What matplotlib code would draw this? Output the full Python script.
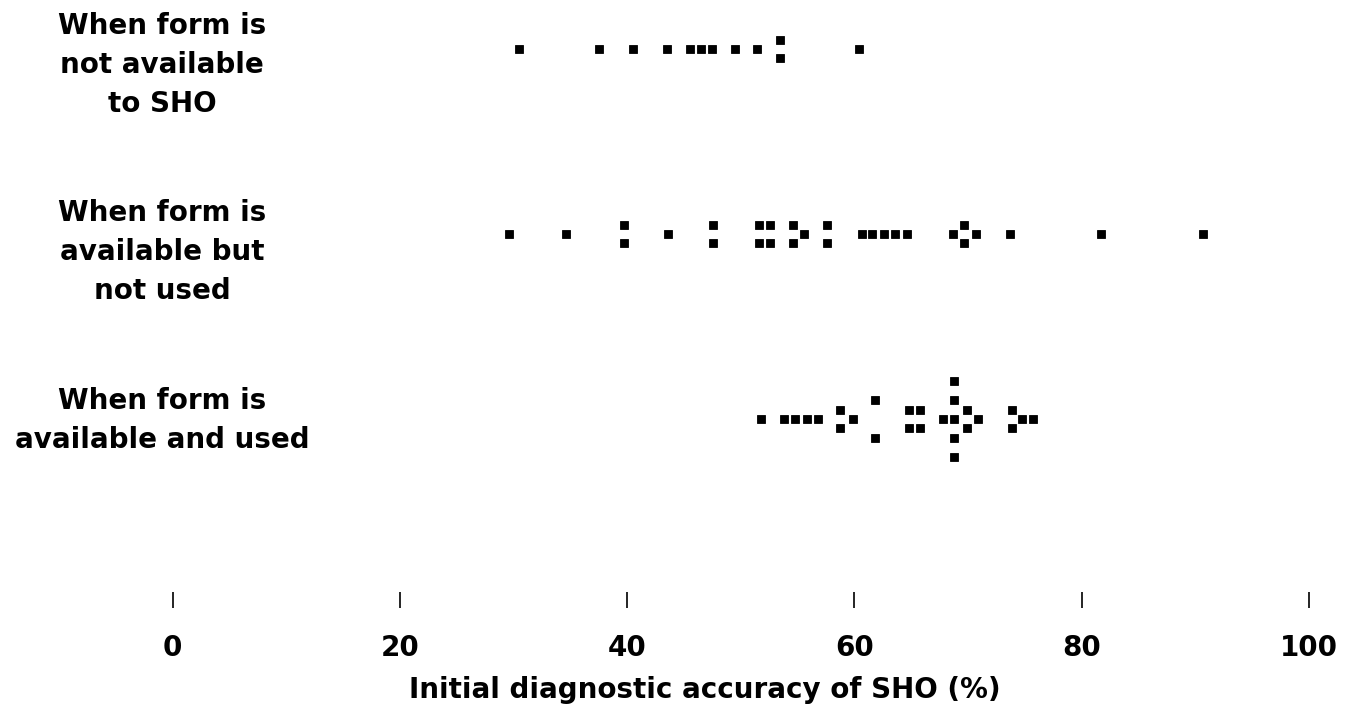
import matplotlib
matplotlib.use("Agg")
import matplotlib.pyplot as plt
import matplotlib.transforms as mtransforms

# Category labels (top to bottom)
categories = [
    "When form is\nnot available\nto SHO",
    "When form is\navailable but\nnot used",
    "When form is\navailable and used",
]

# Initial diagnostic accuracy (%) for each SHO
not_available = [30.5, 37.5, 40.5, 43.5, 45.5, 46.5, 47.5, 49.5, 51.4,
                 53.5, 53.5, 60.4]
not_available_stack = [0, 0, 0, 0, 0, 0, 0, 0, 0, 1, -1, 0]

available_not_used = [29.6, 34.6, 39.7, 39.7, 43.6, 47.6, 47.6, 51.6, 51.6,
                      52.6, 52.6, 54.6, 54.6, 55.6, 57.6, 57.6, 60.7, 61.6,
                      62.6, 63.6, 64.6, 68.7, 69.7, 69.7, 70.7, 73.7, 81.7,
                      90.7]
available_not_used_stack = [0, 0, 1, -1, 0, 1, -1, 1, -1,
                            1, -1, 1, -1, 0, 1, -1, 0, 0,
                            0, 0, 0, 0, 1, -1, 0, 0, 0,
                            0]

available_used = [51.8, 53.8, 54.8, 55.8, 56.8, 58.7, 58.7, 59.9, 61.8, 61.8,
                  64.8, 64.8, 65.8, 65.8, 67.8, 68.8, 68.8, 68.8, 68.8, 68.8,
                  69.9, 69.9, 70.9, 73.9, 73.9, 74.8, 75.7]
available_used_stack = [0, 0, 0, 0, 0, 1, -1, 0, 2, -2,
                        1, -1, 1, -1, 0, 4, 2, 0, -2, -4,
                        1, -1, 0, 1, -1, 0, 0]

xticks = [0, 20, 40, 60, 80, 100]
xlabel = "Initial diagnostic accuracy of SHO (%)"

groups = [
    (not_available, not_available_stack),
    (available_not_used, available_not_used_stack),
    (available_used, available_used_stack),
]
row_pos = [2, 1, 0]
label_shift = [-0.085, -0.095, -0.01]  # label block offset from its dot row
half_step = 0.051  # vertical gap between stacked dots (half a dot row)

plt.rcParams['font.family'] = ['DejaVu Sans']
plt.rcParams['font.weight'] = 'bold'

fig = plt.figure(figsize=(13.59, 7.05), dpi=100)
ax = fig.add_axes([172.7 / 1359, 113 / 705, 1136 / 1359, 592 / 705])

for (vals, stack), y0 in zip(groups, row_pos):
    ys = [y0 + s * half_step for s in stack]
    ax.plot(vals, ys, linestyle='none', marker='s', markersize=5.6,
            color='black', markeredgewidth=0.6)

ax.set_xlim(0, 100)
ax.set_ylim(-0.935, 2.265)
ax.set_xticks(xticks)
ax.set_xticklabels([str(t) for t in xticks], fontsize=20, fontweight='bold')
ax.tick_params(axis='x', direction='out', length=11.5, width=1.2, pad=19)
ax.set_yticks([])
for sp in ax.spines.values():
    sp.set_visible(False)

# category labels, centred in the left margin
trans = mtransforms.blended_transform_factory(fig.transFigure, ax.transData)
for lab, y0, dy in zip(categories, row_pos, label_shift):
    ax.text(162 / 1359, y0 + dy, lab, transform=trans, ha='center',
            va='center', multialignment='center', fontsize=20,
            fontweight='bold', linespacing=1.5)

fig.text(705 / 1359, 15 / 705, xlabel, ha='center', va='center',
         fontsize=20, fontweight='bold')

fig.savefig('out.png', dpi=100)
